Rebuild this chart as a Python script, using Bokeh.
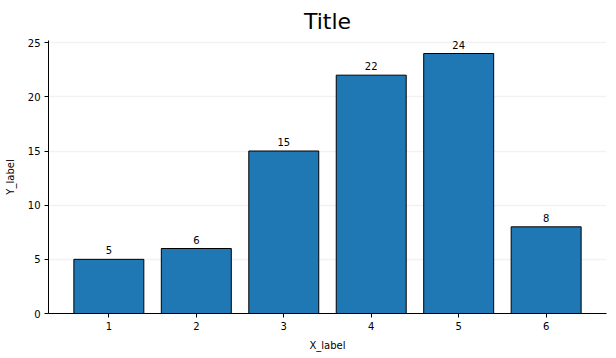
from bokeh.plotting import figure
from bokeh.models import ColumnDataSource, Range1d, FixedTicker
from bokeh.core.properties import value
from bokeh.embed import file_html
from bokeh.resources import INLINE

categories = [1, 2, 3, 4, 5, 6]
values = [5, 6, 15, 22, 24, 8]
labels = [str(v) for v in values]
y_ticks = [0, 5, 10, 15, 20, 25]

FONT = "DejaVu Sans"

src = ColumnDataSource(dict(x=categories, top=values, label=labels))

p = figure(width=616, height=358, output_backend="svg", toolbar_location=None,
           x_range=Range1d(0.31, 6.69), y_range=Range1d(0, 25.2),
           min_border_left=48, min_border_right=10, min_border_top=0,
           min_border_bottom=45)
p.title.text = "Title"
p.title.align = "center"
p.title.text_font = FONT
p.title.text_font_size = "22px"
p.title.text_font_style = "normal"
p.title.text_color = "#000000"
p.title.standoff = 13

p.vbar(x="x", top="top", width=0.8, bottom=0, source=src,
       fill_color="#1f77b4", line_color="#000000", line_width=1)
p.text(x="x", y="top", text="label", source=src, text_align="center",
       text_baseline="bottom", y_offset=-5, text_font=value(FONT),
       text_font_size="10px", text_color="#000000")

p.outline_line_color = None
p.xgrid.grid_line_color = None
p.ygrid.grid_line_color = "#f2f2f2"
p.ygrid.grid_line_width = 1.5

for ax in (p.xaxis[0], p.yaxis[0]):
    ax.axis_line_color = "#000000"
    ax.major_tick_line_color = "#000000"
    ax.major_tick_out = 4
    ax.major_tick_in = 0
    ax.minor_tick_line_color = None
    ax.major_label_standoff = 4
    ax.major_label_text_font = FONT
    ax.major_label_text_font_size = "10px"
    ax.major_label_text_color = "#000000"
    ax.axis_label_text_font = FONT
    ax.axis_label_text_font_size = "10px"
    ax.axis_label_text_font_style = "normal"
    ax.axis_label_text_color = "#000000"

p.xaxis.ticker = FixedTicker(ticks=categories)
p.yaxis.ticker = FixedTicker(ticks=y_ticks)
p.xaxis.axis_label = "X_label"
p.yaxis.axis_label = "Y_label"
p.xaxis.axis_label_standoff = 7
p.yaxis.axis_label_standoff = 9

open("out.html", "w").write(file_html(p, INLINE))
